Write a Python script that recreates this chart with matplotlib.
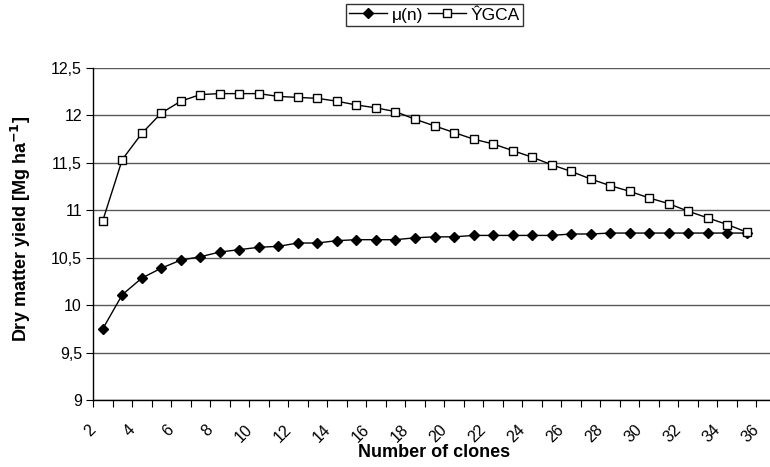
import matplotlib
matplotlib.use("Agg")
import matplotlib.pyplot as plt
from matplotlib.ticker import FixedLocator, FuncFormatter

plt.rcParams['font.family'] = ['Liberation Sans', 'DejaVu Sans']

clones = list(range(2, 36))
mu_n = [9.75, 10.11, 10.285, 10.39, 10.475, 10.51, 10.56, 10.585, 10.61, 10.62,
        10.655, 10.655, 10.68, 10.69, 10.69, 10.69, 10.71, 10.72, 10.72, 10.735,
        10.735, 10.735, 10.735, 10.735, 10.75, 10.75, 10.76, 10.76, 10.76, 10.76,
        10.76, 10.76, 10.76, 10.76]
y_gca = [10.89, 11.535, 11.81, 12.025, 12.15, 12.22, 12.23, 12.23, 12.23, 12.20,
         12.19, 12.18, 12.15, 12.11, 12.08, 12.04, 11.96, 11.89, 11.82, 11.75,
         11.70, 11.63, 11.56, 11.48, 11.41, 11.33, 11.26, 11.20, 11.13, 11.07,
         10.99, 10.92, 10.85, 10.77]
x_labels = list(range(2, 37, 2))
y_ticks = [9, 9.5, 10, 10.5, 11, 11.5, 12, 12.5]

W, H = 770, 467
fig = plt.figure(figsize=(W / 100, H / 100), dpi=100)
left, right, top, bottom = 93, 776, 68, 400
ax = fig.add_axes([left / W, 1 - bottom / H, (right - left) / W, (bottom - top) / H])

ax.plot(clones, mu_n, color='black', lw=1, marker='D', markersize=5,
        markerfacecolor='black', markeredgecolor='black', label='μ(n)', zorder=3)
ax.plot(clones, y_gca, color='black', lw=1, marker='s', markersize=5.2,
        markerfacecolor='white', markeredgecolor='black', markeredgewidth=1,
        label='ŶGCA', zorder=3)

ax.set_yticks(y_ticks)
ax.yaxis.set_major_formatter(FuncFormatter(lambda v, p: ('%g' % v).replace('.', ',')))
# rotated labels end slightly left of their category centre
label_shift = 0.2
ax.set_xticks([v - label_shift for v in x_labels])
ax.set_xticklabels([str(v) for v in x_labels], rotation=45, ha='right', va='top')
ax.xaxis.set_minor_locator(FixedLocator([i + 0.5 for i in range(1, 37)]))
ax.set_xlim(1.5, 36.5)
ax.set_ylim(9, 12.5)
ax.tick_params(axis='x', which='major', length=0, pad=16, labelsize=11.5)
ax.tick_params(axis='x', which='minor', length=5, direction='out', width=0.8)
ax.tick_params(axis='y', length=5, direction='out', width=0.8, labelsize=11.5, pad=3)

ax.grid(axis='y', color='#5a5a5a', lw=1)
ax.set_axisbelow(True)
for s in ['top', 'right']:
    ax.spines[s].set_visible(False)
ax.spines['left'].set_linewidth(1)
ax.spines['bottom'].set_linewidth(1)

ax.set_xlabel('Number of clones', fontsize=13, fontweight='bold')
ax.xaxis.set_label_coords(0.5, (bottom - 457) / (bottom - top))
ax.xaxis.label.set_va('baseline')
ax.set_ylabel('Dry matter yield [Mg ha$^{\\mathbf{-1}}$]', fontsize=13, fontweight='bold')
ax.yaxis.set_label_coords((21 - left) / (right - left), (bottom - 229) / (bottom - top))
ax.yaxis.label.set_va('center')

leg = ax.legend(loc='lower center', bbox_to_anchor=(0.5, 1 + (68 - 26) / (bottom - top)),
                ncol=2, frameon=True, fancybox=False, edgecolor='black', fontsize=12.5,
                handlelength=2.2, columnspacing=0.3, handletextpad=0.25,
                borderpad=0.2, borderaxespad=0)
leg.get_frame().set_linewidth(1)

fig.savefig('out.png', dpi=100)
